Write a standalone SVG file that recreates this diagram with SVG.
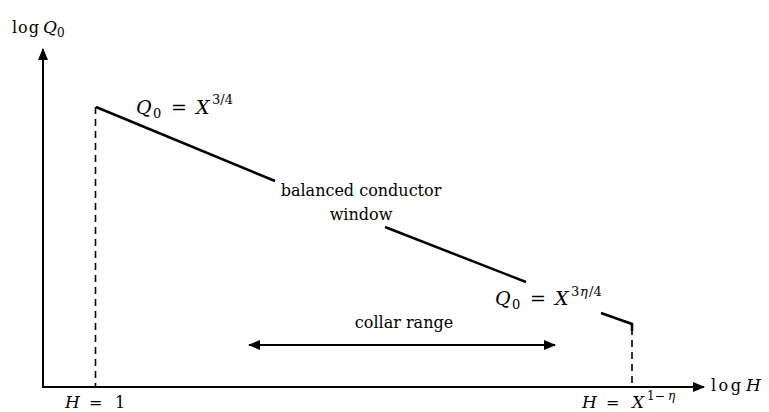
<svg xmlns="http://www.w3.org/2000/svg" width="769" height="412" viewBox="0 0 769 412">
<style>
text{font-family:"DejaVu Serif","Liberation Serif",serif;font-size:16px;fill:#000}
.it{font-style:italic;font-size:17px}
.sb{font-size:12px}
.m{font-size:19px}
.mi{font-size:19px;font-style:italic}
.ms{font-size:13px}
.ax{stroke:#000;stroke-width:2;fill:none}
.cv{stroke:#000;stroke-width:2.5;fill:none}
.da{stroke:#000;stroke-width:1.6;stroke-dasharray:7,5;fill:none}
</style>
<defs>
<marker id="ah" viewBox="0 0 12 10" refX="11" refY="5" markerWidth="12" markerHeight="10" markerUnits="userSpaceOnUse" orient="auto-start-reverse">
<path d="M0,0 L12,5 L0,10 z" fill="#000"/>
</marker>
</defs>
<g id="connectors">
<line class="ax" x1="43" y1="387" x2="43" y2="49" marker-end="url(#ah)"/>
<line class="ax" x1="42" y1="387" x2="704" y2="387" marker-end="url(#ah)"/>
<line class="da" x1="95.5" y1="107" x2="95.5" y2="387"/>
<line class="da" x1="632" y1="328" x2="632" y2="387"/>
<polyline class="cv" points="96,107 275,181"/>
<line class="cv" x1="385" y1="227" x2="526" y2="282"/>
<polyline class="cv" points="601,313 632,324 632,331"/>
<line class="ax" x1="249" y1="345" x2="555" y2="345" marker-start="url(#ah)" marker-end="url(#ah)"/>
</g>
<g id="ylabel"><text y="33"><tspan x="12" textLength="27" lengthAdjust="spacing">log</tspan><tspan class="it" x="43">Q</tspan><tspan class="sb" x="57" y="37">0</tspan></text></g>
<g id="xlabel"><text y="391"><tspan x="711" textLength="30" lengthAdjust="spacing">log</tspan><tspan class="it" x="746">H</tspan></text></g>
<g id="label-top"><text y="114"><tspan class="mi" x="136">Q</tspan><tspan class="ms" x="153" y="118">0</tspan><tspan class="m" x="171" y="114">=</tspan><tspan class="mi" x="196">X</tspan><tspan class="ms" x="212" y="104">3/4</tspan></text></g>
<g id="label-window"><text x="361" y="196" text-anchor="middle">balanced conductor</text><text x="361" y="220" text-anchor="middle">window</text></g>
<g id="label-bottom"><text y="305"><tspan class="mi" x="495">Q</tspan><tspan class="ms" x="512" y="309">0</tspan><tspan class="m" x="530" y="305">=</tspan><tspan class="mi" x="555">X</tspan><tspan class="ms" x="571" y="296">3</tspan><tspan class="ms" x="580" style="font-style:italic">η</tspan><tspan class="ms" x="589">/4</tspan></text></g>
<g id="label-collar"><text x="404" y="328" text-anchor="middle">collar range</text></g>
<g id="label-h1"><text y="408"><tspan class="it" x="65">H</tspan><tspan x="89">=</tspan><tspan x="115">1</tspan></text></g>
<g id="label-h2"><text y="408"><tspan class="it" x="582">H</tspan><tspan x="606">=</tspan><tspan class="it" x="632">X</tspan><tspan class="sb" x="647" y="400">1−</tspan><tspan class="sb" x="668" style="font-style:italic">η</tspan></text></g>
</svg>
